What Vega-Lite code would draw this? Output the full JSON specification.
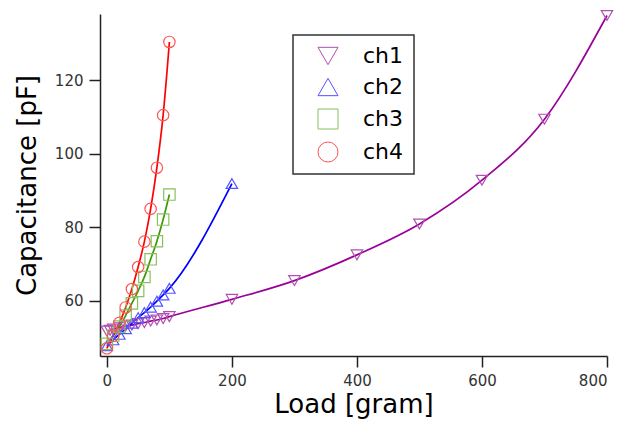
{
  "$schema": "https://vega.github.io/schema/vega-lite/v6.json",
  "width": 507,
  "height": 342,
  "autosize": {"type": "none"},
  "padding": {"left": 100, "top": 14, "right": 27, "bottom": 68},
  "background": "white",
  "config": {
    "font": "DejaVu Sans",
    "view": {"stroke": null},
    "axis": {"grid": false, "domainColor": "#222", "domainWidth": 1.5, "tickColor": "#222", "tickWidth": 1.5, "tickSize": 11, "labelFontSize": 15, "labelColor": "#333", "titleFontSize": 26, "titleFontWeight": "normal", "titleColor": "#000"},
    "legend": {"strokeColor": "#333", "strokeWidth": 1.5, "fillColor": "white", "padding": 10, "labelFontSize": 22, "labelColor": "#000", "symbolSize": 400, "symbolStrokeWidth": 1, "symbolOffset": 14, "labelOffset": 24, "rowPadding": 9}
  },
  "datasets": {
    "pts": [
      {"ch": "ch1", "load": 0, "cap": 51.8},
      {"ch": "ch1", "load": 5, "cap": 52.0},
      {"ch": "ch1", "load": 10, "cap": 52.3},
      {"ch": "ch1", "load": 20, "cap": 52.7},
      {"ch": "ch1", "load": 30, "cap": 53.1},
      {"ch": "ch1", "load": 40, "cap": 53.4},
      {"ch": "ch1", "load": 50, "cap": 53.8},
      {"ch": "ch1", "load": 60, "cap": 54.1},
      {"ch": "ch1", "load": 70, "cap": 54.5},
      {"ch": "ch1", "load": 80, "cap": 54.8},
      {"ch": "ch1", "load": 90, "cap": 55.2},
      {"ch": "ch1", "load": 100, "cap": 55.7},
      {"ch": "ch1", "load": 200, "cap": 60.4},
      {"ch": "ch1", "load": 300, "cap": 65.5},
      {"ch": "ch1", "load": 400, "cap": 72.5},
      {"ch": "ch1", "load": 500, "cap": 80.9},
      {"ch": "ch1", "load": 600, "cap": 92.8},
      {"ch": "ch1", "load": 700, "cap": 109.4},
      {"ch": "ch1", "load": 800, "cap": 137.6},
      {"ch": "ch2", "load": 0, "cap": 47.8},
      {"ch": "ch2", "load": 10, "cap": 49.4},
      {"ch": "ch2", "load": 20, "cap": 50.9},
      {"ch": "ch2", "load": 30, "cap": 52.4},
      {"ch": "ch2", "load": 40, "cap": 53.9},
      {"ch": "ch2", "load": 50, "cap": 55.4},
      {"ch": "ch2", "load": 60, "cap": 56.8},
      {"ch": "ch2", "load": 70, "cap": 58.3},
      {"ch": "ch2", "load": 80, "cap": 59.9},
      {"ch": "ch2", "load": 90, "cap": 61.6},
      {"ch": "ch2", "load": 100, "cap": 63.4},
      {"ch": "ch2", "load": 200, "cap": 91.9},
      {"ch": "ch3", "load": 0, "cap": 48.3},
      {"ch": "ch3", "load": 10, "cap": 50.5},
      {"ch": "ch3", "load": 20, "cap": 53.0},
      {"ch": "ch3", "load": 30, "cap": 56.0},
      {"ch": "ch3", "load": 40, "cap": 59.3},
      {"ch": "ch3", "load": 50, "cap": 62.7},
      {"ch": "ch3", "load": 60, "cap": 66.5},
      {"ch": "ch3", "load": 70, "cap": 71.3},
      {"ch": "ch3", "load": 80, "cap": 76.2},
      {"ch": "ch3", "load": 90, "cap": 82.1},
      {"ch": "ch3", "load": 100, "cap": 88.9},
      {"ch": "ch4", "load": 0, "cap": 47.1},
      {"ch": "ch4", "load": 10, "cap": 50.5},
      {"ch": "ch4", "load": 20, "cap": 54.0},
      {"ch": "ch4", "load": 30, "cap": 58.2},
      {"ch": "ch4", "load": 40, "cap": 63.2},
      {"ch": "ch4", "load": 50, "cap": 69.2},
      {"ch": "ch4", "load": 60, "cap": 76.1},
      {"ch": "ch4", "load": 70, "cap": 85.0},
      {"ch": "ch4", "load": 80, "cap": 96.2},
      {"ch": "ch4", "load": 90, "cap": 110.5},
      {"ch": "ch4", "load": 100, "cap": 130.4}
    ]
  },
  "data": {"name": "pts"},
  "encoding": {
    "x": {"field": "load", "type": "quantitative", "scale": {"domain": [-11, 800], "nice": false, "zero": false},
      "axis": {"values": [0, 200, 400, 600, 800], "title": "Load [gram]", "labelPadding": 6, "titlePadding": 3}},
    "y": {"field": "cap", "type": "quantitative", "scale": {"domain": [45, 138], "nice": false, "zero": false},
      "axis": {"values": [60, 80, 100, 120], "title": "Capacitance [pF]", "labelPadding": 6, "titlePadding": 14}}
  },
  "layer": [
    {
      "transform": [{"filter": "datum.ch === 'ch1'"}],
      "mark": {"type": "line", "interpolate": "monotone", "strokeWidth": 1.7, "color": "#990099"},
      "encoding": {}
    },
    {
      "transform": [{"filter": "datum.ch === 'ch2'"}],
      "mark": {"type": "line", "interpolate": "monotone", "strokeWidth": 1.7, "color": "#0000ff"},
      "encoding": {}
    },
    {
      "transform": [{"filter": "datum.ch === 'ch3'"}],
      "mark": {"type": "line", "interpolate": "monotone", "strokeWidth": 1.7, "color": "#3c9a00"},
      "encoding": {}
    },
    {
      "transform": [{"filter": "datum.ch === 'ch4'"}],
      "mark": {"type": "line", "interpolate": "monotone", "strokeWidth": 1.7, "color": "#ff0000"},
      "encoding": {}
    },
    {
      "mark": {"type": "point", "filled": false, "size": 130, "strokeWidth": 1.2, "opacity": 1},
      "encoding": {
        "color": {"field": "ch", "type": "nominal", "scale": {"domain": ["ch1", "ch2", "ch3", "ch4"], "range": ["#b050b0", "#5555ff", "#88c060", "#ff5555"]},
          "legend": {"title": null, "orient": "none", "legendX": 193, "legendY": 21}},
        "shape": {"field": "ch", "type": "nominal", "scale": {"domain": ["ch1", "ch2", "ch3", "ch4"], "range": ["triangle-down", "triangle-up", "square", "circle"]},
          "legend": {"title": null, "orient": "none", "legendX": 193, "legendY": 21}}
      }
    }
  ]
}
